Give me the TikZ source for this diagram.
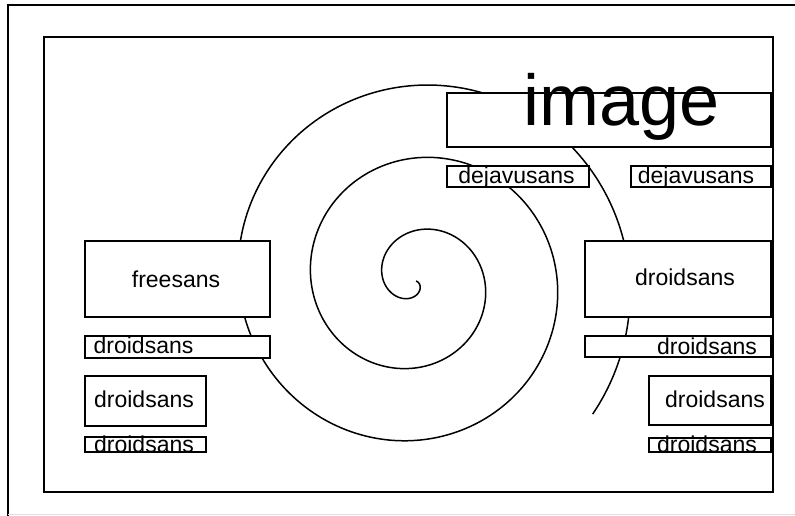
\documentclass[tikz,border=0pt]{standalone}
\usepackage{fontspec}
\setmainfont{Liberation Sans}
\begin{document}
\begin{tikzpicture}[x=1pt,y=-1pt,
  outerline/.style={line width=1.4pt, line cap=rect},
  frame/.style={line width=1.7pt},
  spiralline/.style={line width=1.5pt},
  box/.style={draw, fill=white, line width=1.5pt, inner sep=0pt, outer sep=0pt, anchor=north west},
  lbl/.style={inner sep=0pt, anchor=base, font=\fontsize{23}{23}\selectfont},
  biglbl/.style={inner sep=0pt, anchor=base, font=\fontsize{72}{72}\selectfont}]
\useasboundingbox (0,0) rectangle (795,516);
% outer partial frame
\coordinate (oTR) at (795,5);
\coordinate (oTL) at (8,5);
\coordinate (oBL) at (8,516);
\draw[outerline] (oTR) -- (oTL) -- (oBL);
\coordinate (pBL) at (8,514.5);
\coordinate (pBR) at (795,514.5);
\draw[gray!25, line width=0.8pt] (pBL) -- (pBR);
% inner frame
\coordinate (fTL) at (44,37);
\coordinate (fBR) at (773,492);
\draw[frame] (fTL) rectangle (fBR);
% spiral
\draw[spiralline] plot[domain=19:1117, samples=400, smooth, variable=\t]
  ({416+(0.2014*\t-3.75)*cos(\t)}, {281+(0.2014*\t-3.75)*sin(\t)});
% left boxes
\node[box, minimum width=185pt, minimum height=76pt] (freebox) at (85,241) {};
\node[box, minimum width=185pt, minimum height=22pt] (lthin) at (85,336) {};
\node[box, minimum width=121pt, minimum height=50pt] (lmid) at (85,376) {};
\node[box, minimum width=121pt, minimum height=15pt] (lsmall) at (85,437) {};
% right boxes
\node[box, minimum width=324pt, minimum height=54pt] (imgbox) at (447,93) {};
\node[box, minimum width=142pt, minimum height=21pt] (dejL) at (447,166) {};
\node[box, minimum width=140pt, minimum height=21pt] (dejR) at (631,166) {};
\node[box, minimum width=186pt, minimum height=76pt] (rbig) at (585,241) {};
\node[box, minimum width=186pt, minimum height=21pt] (rthin) at (585,336) {};
\node[box, minimum width=122pt, minimum height=49pt] (rmid) at (649,376) {};
\node[box, minimum width=122pt, minimum height=14pt] (rsmall) at (649,438) {};
% labels
\node[lbl] (tfree) at (176,287) {freesans};
\node[lbl] (tlthin) at (143.5,353) {droidsans};
\node[lbl] (tlmid) at (144,407) {droidsans};
\node[lbl] (tlsmall) at (144,452) {droidsans};
\node[lbl] (tdejL) at (516.5,183) {dejavusans};
\node[lbl] (tdejR) at (696,183) {dejavusans};
\node[lbl] (trbig) at (685,285) {droidsans};
\node[lbl] (trthin) at (707,354) {droidsans};
\node[lbl] (trmid) at (715,407) {droidsans};
\node[lbl] (trsmall) at (707,452) {droidsans};
\node[biglbl] (timage) at (621.5,126) {image};
\end{tikzpicture}
\end{document}
